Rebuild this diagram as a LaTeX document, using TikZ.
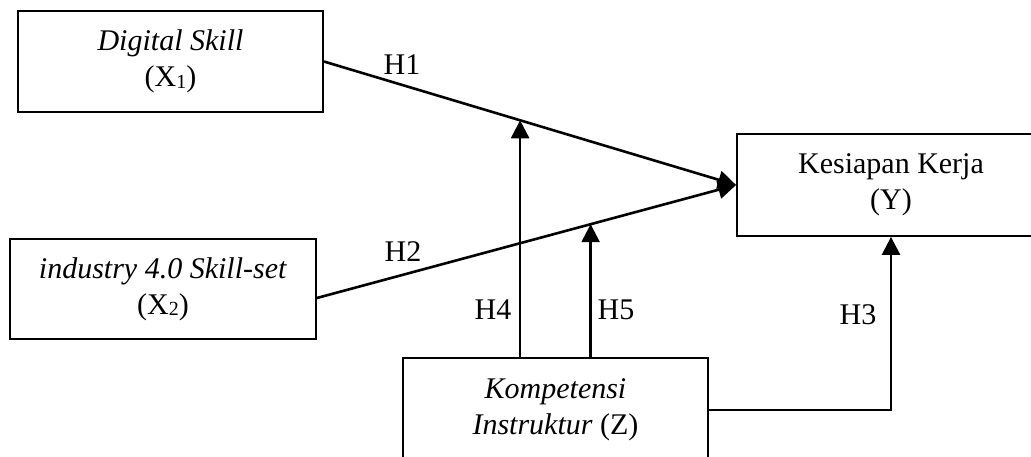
\documentclass[tikz,border=0pt]{standalone}
\usepackage{fontspec}
\setmainfont{Liberation Serif}
\usetikzlibrary{arrows.meta,calc}
\newcommand{\lowsub}[1]{{\fontsize{20}{20}\selectfont\raisebox{-1.5pt}{#1}}}
\begin{document}
\begin{tikzpicture}[x=1pt,y=-1pt,
  box/.style={draw,line width=1.8pt,align=center,inner sep=0pt},
  arr/.style={line width=2.6pt,-{Triangle[length=18pt,width=18pt]}},
  lbl/.style={inner sep=0pt},
  every node/.style={font=\fontsize{30}{36}\selectfont}]
\useasboundingbox (0,0) rectangle (1031,457);
\clip (0,0) rectangle (1031,457);
\fill[white] (0,0) rectangle (1031,457);
\node[box,minimum width=305pt,minimum height=101pt] (X1) at (170.5,61.5) {\textit{Digital Skill}\\(X\lowsub{1})};
\node[box,minimum width=306pt,minimum height=100pt] (X2) at (163,289) {\textit{industry 4.0 Skill-set}\\(X\lowsub{2})};
\node[box,minimum width=308pt,minimum height=102pt] (Y) at (891,185) {Kesiapan Kerja\\(Y)};
\node[box,minimum width=305pt,minimum height=104pt] (Z) at (555.5,410) {\textit{Kompetensi}\\\textit{Instruktur} (Z)};
\coordinate (s2) at ($(X2.east)+(0,9)$);
\draw[arr] (X1.east) -- coordinate[pos=0.476] (m1) (Y.west);
\draw[arr] (s2) -- coordinate[pos=0.653] (m2) (Y.west);
\draw[arr] (Z.north -| m1) -- (m1);
\draw[arr] (Z.north -| m2) -- (m2);
\draw[arr] (Z.east) -| (Y.south);
\node[lbl] (h1) at (402,65) {H1};
\node[lbl] (h2) at (403,252) {H2};
\node[lbl] (h3) at (858,315) {H3};
\node[lbl] (h4) at (493,310) {H4};
\node[lbl] (h5) at (616,310) {H5};
\end{tikzpicture}
\end{document}
